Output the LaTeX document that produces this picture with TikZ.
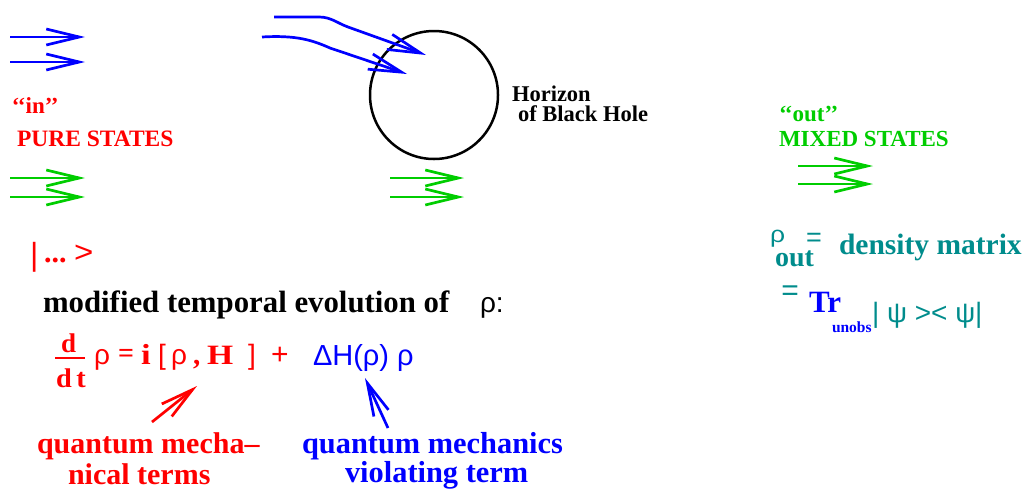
\documentclass[tikz,border=0pt]{standalone}
\usepackage{fontspec}
\setmainfont{Liberation Serif}
\newfontfamily\sansf{Liberation Sans}
\usetikzlibrary{arrows.meta}
\definecolor{xred}{RGB}{255,0,0}
\definecolor{xblue}{RGB}{0,0,255}
\definecolor{xgreen}{RGB}{0,205,0}
\definecolor{xteal}{RGB}{0,140,140}
\newcommand{\bfs}[1]{\fontsize{#1}{#1}\selectfont\rmfamily\bfseries}
\newcommand{\sfs}[1]{\fontsize{#1}{#1}\selectfont\sansf\mdseries}
\tikzset{
  arr/.style={line width=2.7pt, -{Straight Barb[length=33pt,width=16pt]}},
  txt/.style={inner sep=0pt, outer sep=0pt, anchor=base west},
  ctr/.style={inner sep=0pt, outer sep=0pt},
}
\begin{document}
\begin{tikzpicture}[x=1pt,y=-1pt]
\useasboundingbox (0,0) rectangle (1027,491);
% straight arrows
\foreach \n/\xa/\xb/\yy/\c in {b1/10/85/37/xblue, b2/10/85/62/xblue,
  g1/10/85/178/xgreen, g2/10/85/197/xgreen,
  g3/390/464/178/xgreen, g4/390/464/197/xgreen,
  g5/798/873/166/xgreen, g6/798/873/184/xgreen}{
  \coordinate (\n s) at (\xa,\yy);
  \coordinate (\n e) at (\xb,\yy);
  \draw[arr,\c] (\n s) -- (\n e);
}
% black hole
\node[draw, circle, line width=2.5pt, minimum size=128pt, inner sep=0pt] (bh) at (434,95) {};
% curved arrows
\coordinate (c1s) at (274,17);
\coordinate (c1a) at (319,17);
\coordinate (c1b) at (348,27);
\coordinate (c1e) at (426,55);
\draw[arr,xblue] (c1s) -- (c1a) .. controls (331,17) and (337,23) .. (c1b) -- (c1e);
\coordinate (c2s) at (262,37);
\coordinate (c2b) at (330,48);
\coordinate (c2e) at (407,74);
\draw[arr,xblue] (c2s) .. controls (296,35) and (312,40) .. (c2b) -- (c2e);
% labels
\node[txt] (hor1) at (512,101) {\bfs{22.5}Horizon};
\node[txt] (hor2) at (518,121) {\bfs{22.5}of Black Hole};
\node[txt, text=xred] (in) at (12,113) {\bfs{23}‘‘in’’};
\node[txt, text=xred] (pure) at (17,146) {\bfs{23.5}PURE STATES};
\node[txt, text=xgreen] (out) at (779,121) {\bfs{23}‘‘out’’};
\node[txt, text=xgreen] (mixed) at (779,146) {\bfs{23}MIXED STATES};
% ket
\node[txt, text=xred] (k1) at (30,265) {\sfs{32}|};
\node[txt, text=xred] (k2) at (44,262) {\bfs{30}...};
\node[txt, text=xred] (k3) at (74,262) {\sfs{30}\scalebox{1.1}[1]{>}};
% evolution
\node[txt] (mod) at (43,312) {\bfs{30.8}modified temporal evolution of};
\node[txt] (rho) at (480,312) {\sfs{28}ρ:};
% equation
\node[txt, text=xred] (dnum) at (61,352) {\bfs{27}d};
\coordinate (fb1) at (55,358);
\coordinate (fb2) at (85,358);
\draw[xred, line width=2.4pt] (fb1) -- (fb2);
\node[txt, text=xred] (dden) at (56,387) {\bfs{27}\scalebox{1.05}[1]{d\,t}};
\node[txt, text=xred] (e1) at (94,364) {\sfs{28}ρ};
\node[txt, text=xred] (e2) at (118,362) {\bfs{28}=};
\node[txt, text=xred] (e3) at (141,364) {\bfs{29}\scalebox{1.2}[1]{i}};
\node[txt, text=xred] (e4) at (158,364) {\sfs{28}[};
\node[txt, text=xred] (e5) at (171,364) {\sfs{28}ρ};
\node[txt, text=xred] (e6) at (193,364) {\bfs{29},};
\node[txt, text=xred] (e7) at (207,364) {\bfs{28}\scalebox{1.2}[1]{H}};
\node[txt, text=xred] (e8) at (248,364) {\sfs{28}]};
\node[ctr, text=xred] (e9) at (280,356) {\sfs{30}+};
\node[txt, text=xblue] (dh) at (313,365) {\sfs{29}ΔH(ρ) ρ};
% red arrow
\coordinate (ra1) at (152,422);
\coordinate (ra2) at (197,386);
\draw[arr,xred] (ra1) -- (ra2);
% blue arrow
\coordinate (ba1) at (388,428);
\coordinate (ba2) at (365,378);
\draw[arr,xblue] (ba1) -- (ba2);
\node[txt, text=xred] (qm1) at (37,453) {\bfs{30}quantum mecha–};
\node[txt, text=xred] (qm2) at (68,484) {\bfs{30}nical terms};
\node[txt, text=xblue] (qv1) at (302,453) {\bfs{30.4}quantum mechanics};
\node[txt, text=xblue] (qv2) at (345,482) {\bfs{30.4}violating term};
% density matrix
\node[txt, text=xteal] (rout) at (770,242) {\sfs{23}\scalebox{1.15}[1]{ρ}};
\node[txt, text=xteal] (outsub) at (775,266) {\bfs{28}out};
\node[ctr, text=xteal] (eqa) at (814,240) {\sfs{27}=};
\node[txt, text=xteal] (dens) at (839,254) {\bfs{29.5}density matrix};
\node[ctr, text=xteal] (eqb) at (790,293) {\sfs{30}=};
\node[txt, text=xblue] (tr) at (809,312) {\bfs{31}Tr};
\node[txt, text=xblue] (unobs) at (832,332) {\bfs{15.5}unobs};
\node[txt, text=xteal] (psi) at (872,322) {\sfs{28}| ψ >< ψ|};
\end{tikzpicture}
\end{document}
